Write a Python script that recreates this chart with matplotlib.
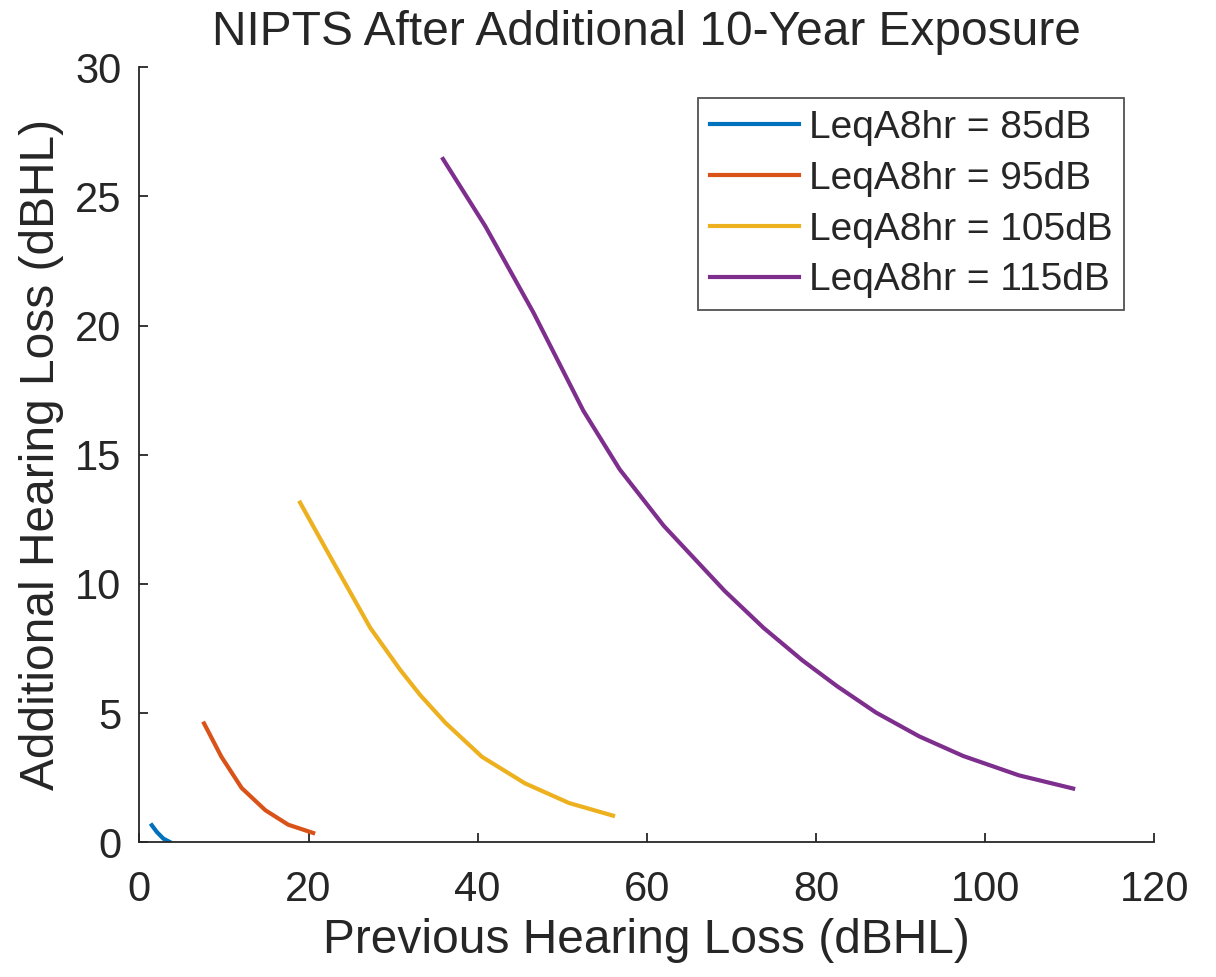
import matplotlib
matplotlib.use("Agg")
import matplotlib.pyplot as plt

# values
prev_85 = [1.47, 2.06, 2.84, 3.55]
add_85 = [0.66, 0.40, 0.14, 0.02]

prev_95 = [7.65, 9.7, 12.1, 14.9, 17.6, 20.55]
add_95 = [4.6, 3.31, 2.1, 1.24, 0.68, 0.36]

prev_105 = [19.0, 23.0, 27.3, 30.85, 33.2, 36.2, 40.5, 45.6, 50.8, 56.0]
add_105 = [13.15, 10.8, 8.3, 6.67, 5.7, 4.62, 3.31, 2.28, 1.52, 1.03]

prev_115 = [35.9, 40.9, 46.6, 52.5, 56.8, 62.0, 69.2, 73.8, 78.4, 82.5,
            87.1, 92.2, 97.4, 104.0, 110.4]
add_115 = [26.45, 23.85, 20.5, 16.7, 14.43, 12.25, 9.73, 8.30, 7.04, 6.04,
           5.02, 4.10, 3.34, 2.59, 2.08]

labels = ["LeqA8hr = 85dB", "LeqA8hr = 95dB", "LeqA8hr = 105dB", "LeqA8hr = 115dB"]
colors = ["#0072BD", "#D95319", "#EDB120", "#7E2F8E"]

TXT = "#262626"
plt.rcParams["font.family"] = ["Liberation Sans", "DejaVu Sans"]

fig = plt.figure(figsize=(12.16, 9.77), dpi=100)
ax = fig.add_axes([0.1146, 0.1379, 0.8347, 0.7932])

series = [(prev_85, add_85), (prev_95, add_95), (prev_105, add_105), (prev_115, add_115)]
for (xs, ys), lab, c in zip(series, labels, colors):
    ax.plot(xs, ys, color=c, lw=3, label=lab, solid_joinstyle="round")

ax.set_xlim(0, 120)
ax.set_ylim(0, 30)
ax.set_xticks(range(0, 121, 20))
ax.set_yticks(range(0, 31, 5))

for s in ["top", "right"]:
    ax.spines[s].set_visible(False)
for s in ["left", "bottom"]:
    ax.spines[s].set_color(TXT)
    ax.spines[s].set_linewidth(1.3)

ax.tick_params(axis="both", direction="in", length=6.5, width=1.3, colors=TXT,
               labelsize=30)
ax.tick_params(axis="x", pad=20)
ax.tick_params(axis="y", pad=13)

ax.set_xlabel("Previous Hearing Loss (dBHL)", fontsize=34.5, color=TXT, labelpad=6)
ax.set_ylabel("Additional Hearing Loss (dBHL)", fontsize=34.5, color=TXT, labelpad=8)
ax.set_title("NIPTS After Additional 10-Year Exposure", fontsize=34.5, color=TXT, pad=16)

leg = ax.legend(loc="upper right", bbox_to_anchor=(0.9704, 0.960), borderaxespad=0,
                fontsize=28, frameon=True, fancybox=False, handlelength=2.3,
                handletextpad=0.25, labelspacing=0.38, borderpad=0.3)
leg.get_frame().set_edgecolor(TXT)
leg.get_frame().set_linewidth(1.3)
for t in leg.get_texts():
    t.set_color(TXT)

fig.savefig("out.png", dpi=100)
